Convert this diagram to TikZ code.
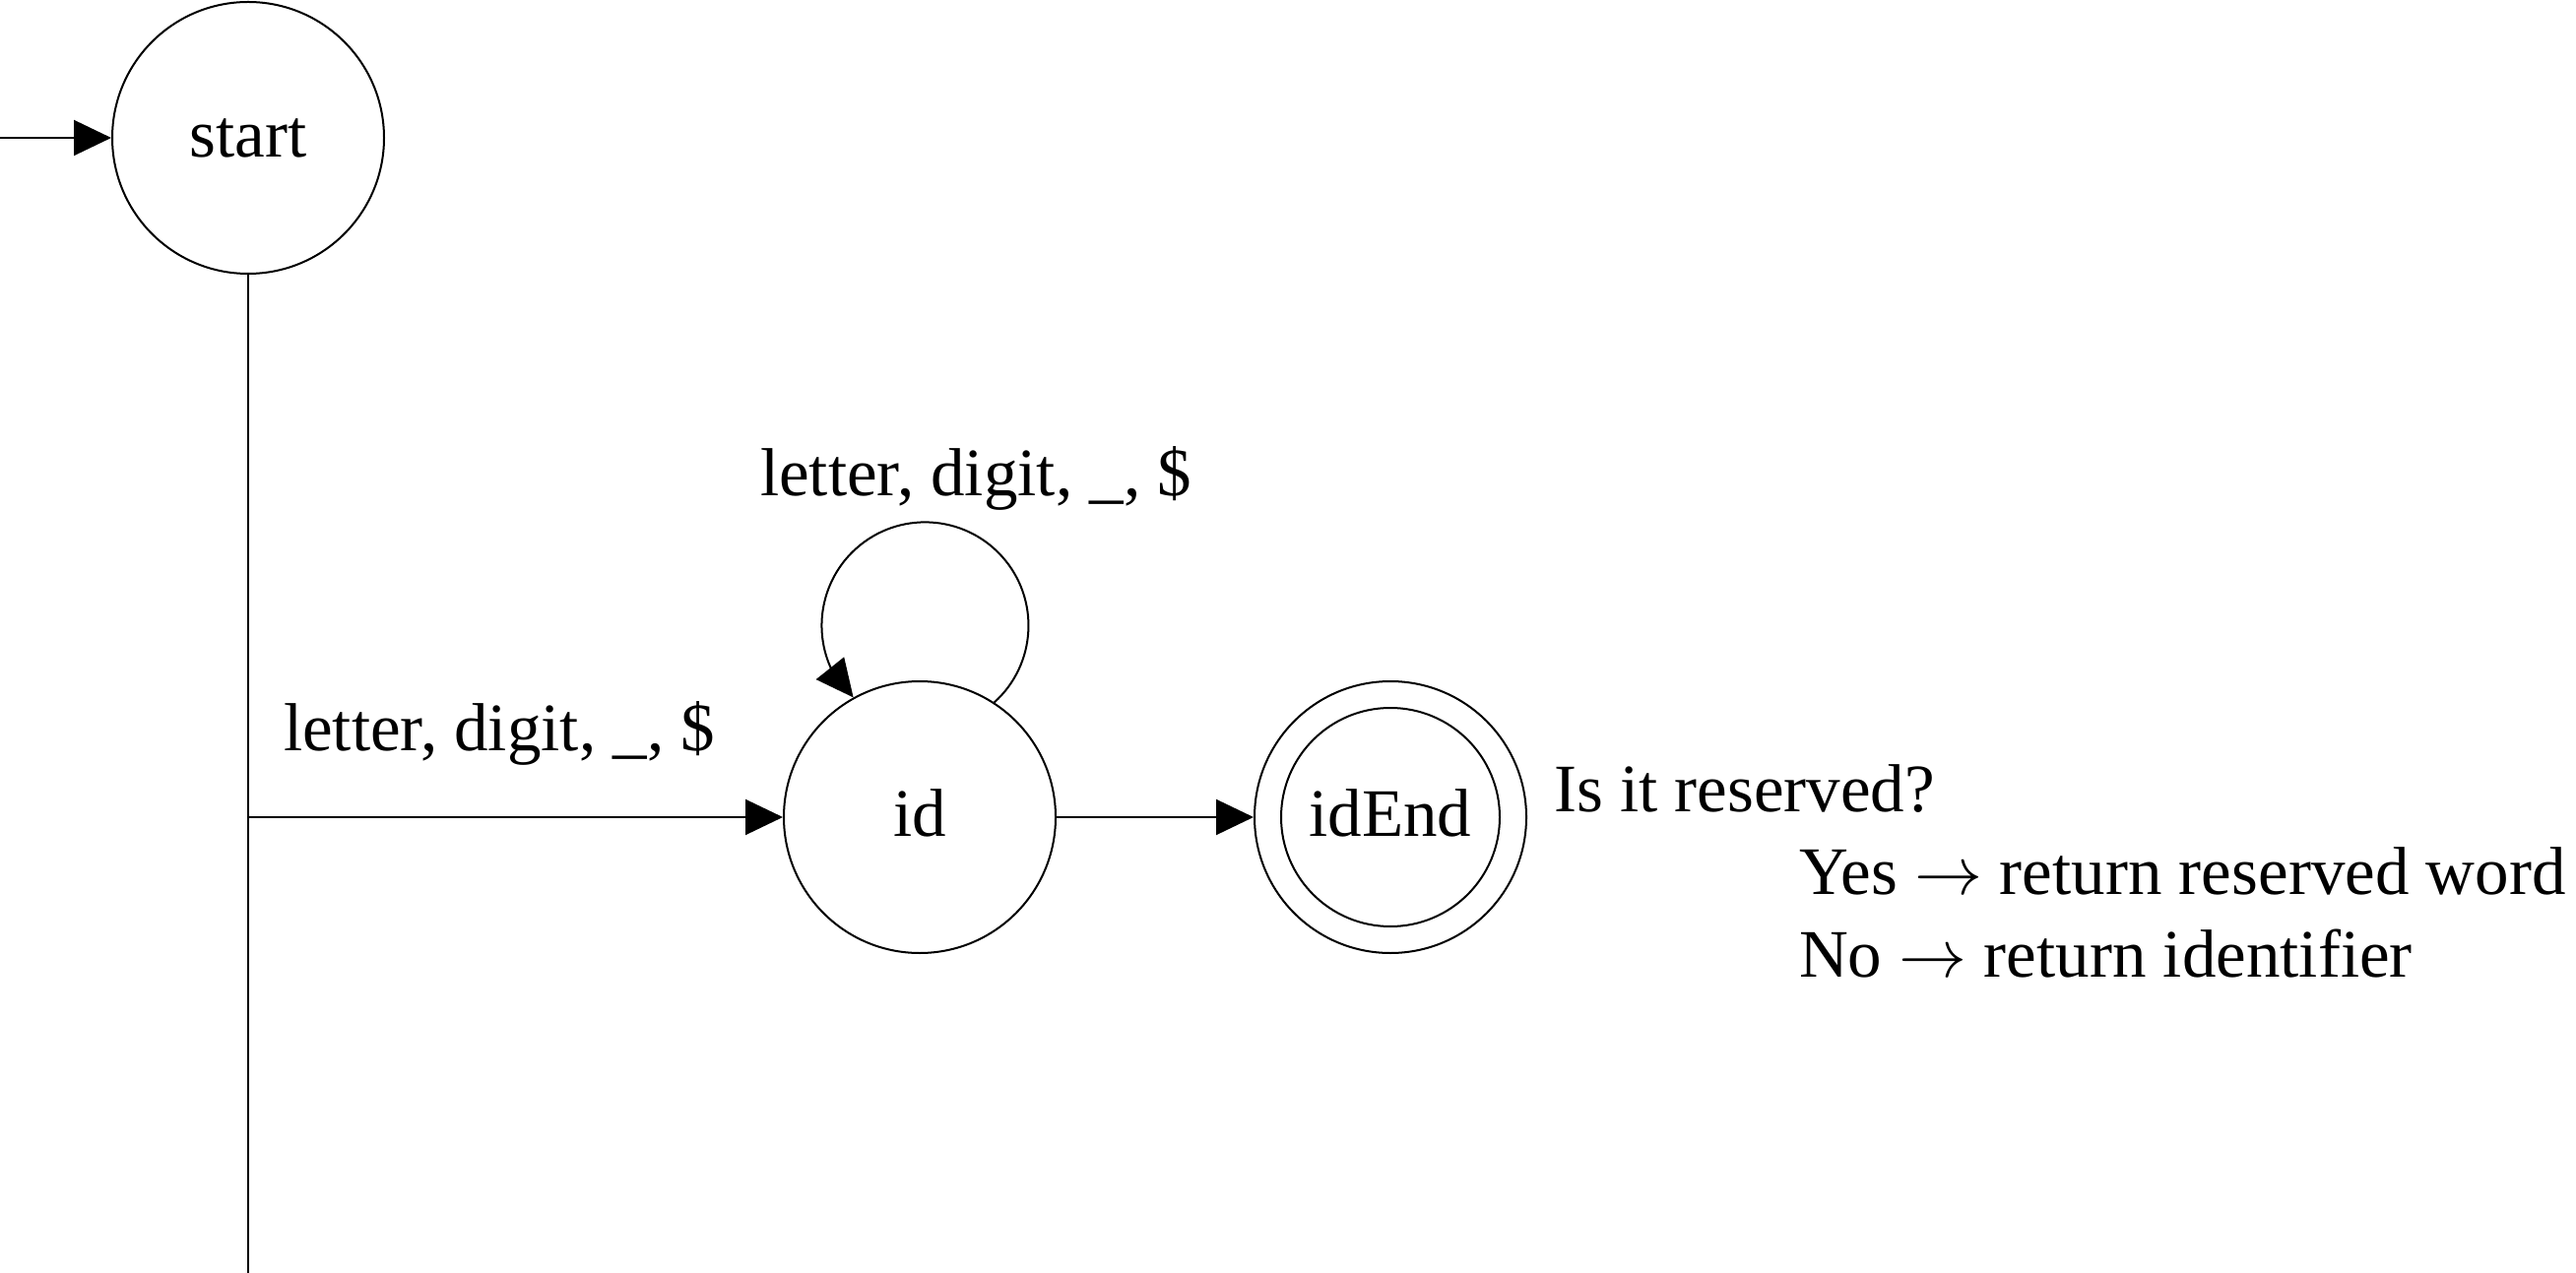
\RequirePackage{fix-cm}
\documentclass[tikz,border=0pt]{standalone}
\usepackage{fontspec}
\setmainfont{Liberation Serif}
\usetikzlibrary{arrows.meta,calc}
\begin{document}
\begin{tikzpicture}[x=0.5pt,y=-0.5pt,
  line width=1pt,
  every node/.style={font=\fontsize{34.5pt}{42pt}\selectfont},
  state/.style={draw,circle,minimum size=138pt,inner sep=0pt},
  lowtext/.style={text height=24pt,text depth=5pt},
  arr/.style={-{Triangle[length=19pt,width=18pt]}},
  lbl/.style={anchor=base,inner sep=0pt},
  note/.style={anchor=base west,inner sep=0pt}]
\useasboundingbox (0,0) rectangle (2616,1293);
% states
\node[state] (start) at (252,140) {start};
\node[state,lowtext] (id) at (934,830) {id};
\node[state,lowtext] (idEnd) at (1412,830) {idEnd};
\draw (idEnd.center) circle[radius=55.5pt];
% helper coordinates
\coordinate (entry) at (0,140);
\coordinate (junction) at (252,830);
\coordinate (bottom) at (252,1293);
% connectors
\draw[arr] (entry) -- (start);
\draw (start) -- (bottom);
\draw[arr] (junction) -- (id);
\draw[arr] (id) -- (idEnd);
\draw[arr] (id.57) arc[start angle=-48,end angle=206,radius=52.5pt] -- (id.119);
% labels
\node[lbl] (looplbl) at (991,504) {letter, digit, \_, \$};
\node[lbl] (edgelbl) at (507,762) {letter, digit, \_, \$};
\node[note] (q) at (1577,824) {Is it reserved?};
\node[note] (yes) at (1826,908) {Yes $\rightarrow$ return reserved word};
\node[note] (no) at (1826,992) {No $\rightarrow$ return identifier};
\end{tikzpicture}
\end{document}
